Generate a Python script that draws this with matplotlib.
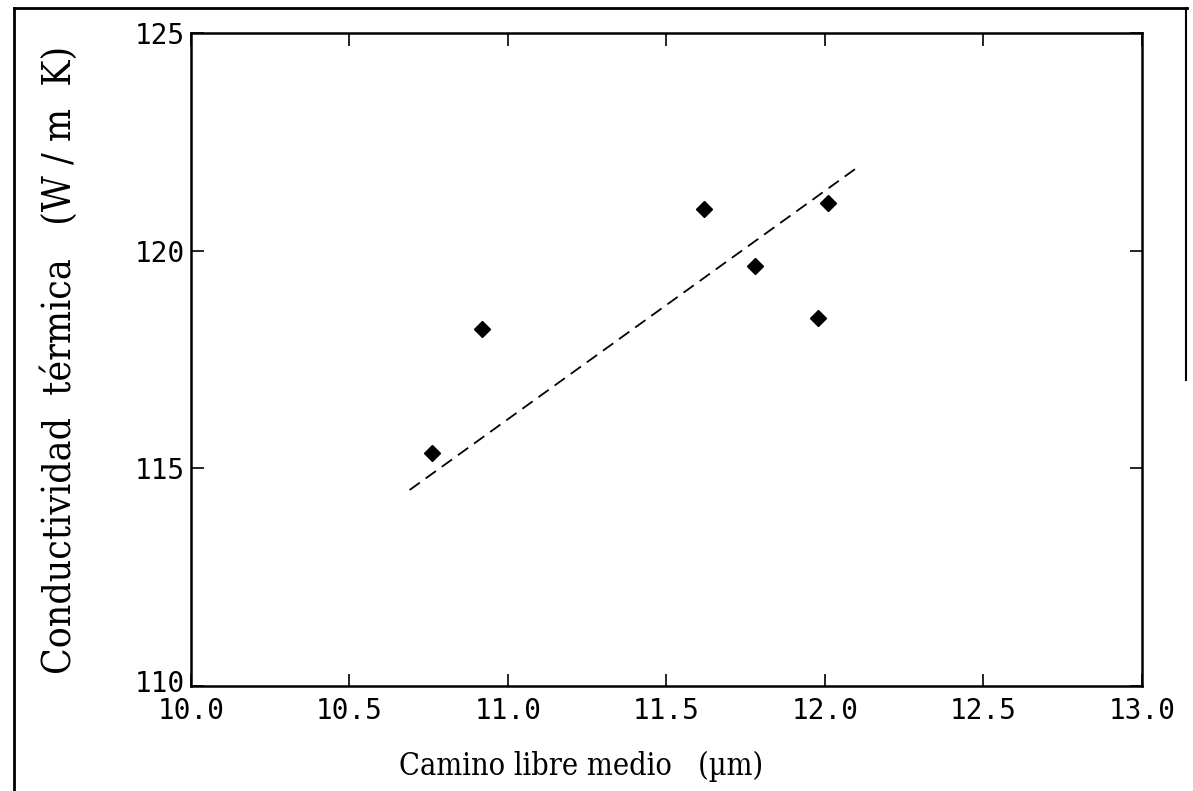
import numpy as np
import matplotlib
matplotlib.use('Agg')
from matplotlib import pyplot as plt
from matplotlib.transforms import ScaledTranslation

# datos
camino = [10.76, 10.92, 11.62, 11.78, 11.98, 12.01]
conductividad = [115.35, 118.2, 120.95, 119.65, 118.45, 121.1]
ajuste_x = [10.69, 12.10]
ajuste_y = [114.5, 121.9]
xticks = [10.0, 10.5, 11.0, 11.5, 12.0, 12.5, 13.0]
yticks = [110, 115, 120, 125]

fig = plt.figure(figsize=(11.93, 7.91), dpi=100)
ax = fig.add_axes([0.160, 0.133, 0.797, 0.825])

ax.plot(camino, conductividad, linestyle='none', marker='D', markersize=8, color='black')
ax.plot(ajuste_x, ajuste_y, linestyle=(0, (7, 4)), color='black', linewidth=1.3)

ax.set_xlim(10.0, 13.0)
ax.set_ylim(110, 125)
ax.set_xticks(xticks)
ax.set_yticks(yticks)
ax.set_xticklabels(['%.1f' % t for t in xticks], family='DejaVu Sans Mono', fontsize=20)
ax.set_yticklabels([str(t) for t in yticks], family='DejaVu Sans Mono', fontsize=20)
ax.tick_params(direction='in', length=9, width=1.2, top=True, right=True, pad=4)
ax.tick_params(axis='x', pad=8)
for s in ax.spines.values():
    s.set_linewidth(1.8)

# el 110 queda un poco mas arriba para no pisar el 10.0
lab110 = ax.get_yticklabels()[0]
lab110.set_transform(lab110.get_transform() + ScaledTranslation(0, 0.05, fig.dpi_scale_trans))

ax.set_xlabel('Camino libre medio   (µm)', family='DejaVu Serif', fontstretch='condensed',
              fontsize=22)
ax.xaxis.set_label_coords(0.41, -0.10)
ax.set_ylabel('Conductividad  térmica   (W / m  K)', family='DejaVu Serif', fontstretch='condensed',
              fontsize=28)
ax.yaxis.set_label_coords(-0.118, 0.5)

#marco del escaneo
fig.add_artist(plt.Line2D([0.012, 0.012], [0.0, 0.99], color='black', linewidth=2, transform=fig.transFigure))
fig.add_artist(plt.Line2D([0.012, 0.995], [0.99, 0.99], color='black', linewidth=2, transform=fig.transFigure))
fig.add_artist(plt.Line2D([0.994, 0.994], [0.52, 0.99], color='black', linewidth=1.5, transform=fig.transFigure))

fig.savefig('out.png', dpi=100)
